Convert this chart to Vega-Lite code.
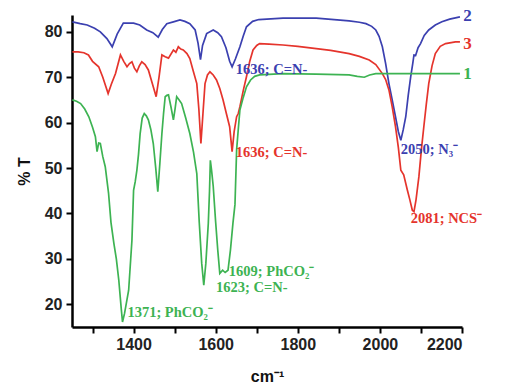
{
  "$schema": "https://vega.github.io/schema/vega-lite/v6.json",
  "width": 390,
  "height": 312,
  "autosize": {"type": "none"},
  "padding": {"left": 72, "top": 15, "right": 48, "bottom": 62},
  "background": "white",
  "config": {"view": {"stroke": null}},
  "datasets": {
    "spectra": [
      {"series":"2","wn":1251,"T":82.2},{"series":"2","wn":1270,"T":81.8},{"series":"2","wn":1287,"T":81.5},{"series":"2","wn":1305,"T":80.8},{"series":"2","wn":1319,"T":80},{"series":"2","wn":1335,"T":78.5},{"series":"2","wn":1348,"T":76.7},{"series":"2","wn":1360,"T":79.5},{"series":"2","wn":1375,"T":81.9},{"series":"2","wn":1400,"T":81.9},{"series":"2","wn":1415,"T":81.5},{"series":"2","wn":1432,"T":80.4},{"series":"2","wn":1447,"T":79.8},{"series":"2","wn":1460,"T":78.8},{"series":"2","wn":1470,"T":80.5},{"series":"2","wn":1481,"T":81.8},{"series":"2","wn":1497,"T":82.2},{"series":"2","wn":1513,"T":82.6},{"series":"2","wn":1525,"T":82.3},{"series":"2","wn":1537,"T":81.8},{"series":"2","wn":1550,"T":80.4},{"series":"2","wn":1557,"T":77.5},{"series":"2","wn":1563,"T":73.9},{"series":"2","wn":1568,"T":77},{"series":"2","wn":1578,"T":79.6},{"series":"2","wn":1594,"T":80.4},{"series":"2","wn":1605,"T":79.8},{"series":"2","wn":1614,"T":78.9},{"series":"2","wn":1625,"T":76.5},{"series":"2","wn":1634,"T":73.5},{"series":"2","wn":1640,"T":72.3},{"series":"2","wn":1648,"T":74},{"series":"2","wn":1659,"T":76.7},{"series":"2","wn":1667,"T":79},{"series":"2","wn":1675,"T":81.1},{"series":"2","wn":1690,"T":82.3},{"series":"2","wn":1705,"T":82.7},{"series":"2","wn":1764,"T":83},{"series":"2","wn":1845,"T":83},{"series":"2","wn":1925,"T":82.4},{"series":"2","wn":1950,"T":82.1},{"series":"2","wn":1966,"T":81.8},{"series":"2","wn":1980,"T":81.2},{"series":"2","wn":1990,"T":80.4},{"series":"2","wn":1998,"T":79},{"series":"2","wn":2006,"T":76.7},{"series":"2","wn":2014,"T":73},{"series":"2","wn":2022,"T":68.6},{"series":"2","wn":2030,"T":65},{"series":"2","wn":2038,"T":61.3},{"series":"2","wn":2045,"T":58},{"series":"2","wn":2051,"T":56.1},{"series":"2","wn":2057,"T":58.5},{"series":"2","wn":2063,"T":61.3},{"series":"2","wn":2069,"T":66},{"series":"2","wn":2075,"T":70.1},{"series":"2","wn":2080,"T":73},{"series":"2","wn":2083,"T":74.9},{"series":"2","wn":2087,"T":74.8},{"series":"2","wn":2093,"T":76.5},{"series":"2","wn":2099,"T":77.4},{"series":"2","wn":2108,"T":79.2},{"series":"2","wn":2119,"T":80.4},{"series":"2","wn":2135,"T":81.5},{"series":"2","wn":2151,"T":82.2},{"series":"2","wn":2170,"T":82.8},{"series":"2","wn":2195,"T":83.3},
      {"series":"3","wn":1251,"T":75.6},{"series":"3","wn":1265,"T":75.6},{"series":"3","wn":1279,"T":75.4},{"series":"3","wn":1290,"T":74.9},{"series":"3","wn":1300,"T":73.5},{"series":"3","wn":1315,"T":72.3},{"series":"3","wn":1325,"T":70},{"series":"3","wn":1338,"T":66.4},{"series":"3","wn":1346,"T":68.5},{"series":"3","wn":1356,"T":70.8},{"series":"3","wn":1368,"T":74.9},{"series":"3","wn":1376,"T":73.5},{"series":"3","wn":1384,"T":72.3},{"series":"3","wn":1390,"T":73},{"series":"3","wn":1396,"T":73.4},{"series":"3","wn":1402,"T":72},{"series":"3","wn":1408,"T":71.2},{"series":"3","wn":1414,"T":72.5},{"series":"3","wn":1420,"T":73.4},{"series":"3","wn":1428,"T":72.8},{"series":"3","wn":1436,"T":71.6},{"series":"3","wn":1446,"T":68.5},{"series":"3","wn":1455,"T":65.7},{"series":"3","wn":1462,"T":70},{"series":"3","wn":1469,"T":74.9},{"series":"3","wn":1477,"T":74.5},{"series":"3","wn":1485,"T":74.2},{"series":"3","wn":1497,"T":76},{"series":"3","wn":1503,"T":75.5},{"series":"3","wn":1509,"T":76.7},{"series":"3","wn":1515,"T":76.2},{"series":"3","wn":1521,"T":76},{"series":"3","wn":1530,"T":75.2},{"series":"3","wn":1537,"T":74.1},{"series":"3","wn":1545,"T":71.5},{"series":"3","wn":1554,"T":68.6},{"series":"3","wn":1559,"T":63},{"series":"3","wn":1564,"T":55.4},{"series":"3","wn":1569,"T":62},{"series":"3","wn":1574,"T":68.6},{"series":"3","wn":1580,"T":70.5},{"series":"3","wn":1586,"T":71.2},{"series":"3","wn":1594,"T":70.5},{"series":"3","wn":1602,"T":69.4},{"series":"3","wn":1610,"T":67.5},{"series":"3","wn":1618,"T":65},{"series":"3","wn":1626,"T":62},{"series":"3","wn":1634,"T":59.1},{"series":"3","wn":1640,"T":53.6},{"series":"3","wn":1645,"T":58},{"series":"3","wn":1651,"T":61.3},{"series":"3","wn":1655,"T":62},{"series":"3","wn":1659,"T":63.5},{"series":"3","wn":1667,"T":67},{"series":"3","wn":1675,"T":70.1},{"series":"3","wn":1683,"T":73.5},{"series":"3","wn":1691,"T":76},{"series":"3","wn":1700,"T":77},{"series":"3","wn":1707,"T":77.4},{"series":"3","wn":1730,"T":77.3},{"series":"3","wn":1764,"T":77.1},{"series":"3","wn":1800,"T":76.8},{"series":"3","wn":1845,"T":76.3},{"series":"3","wn":1880,"T":75.9},{"series":"3","wn":1925,"T":75.2},{"series":"3","wn":1950,"T":74.6},{"series":"3","wn":1974,"T":73.8},{"series":"3","wn":1990,"T":72.8},{"series":"3","wn":2006,"T":70.8},{"series":"3","wn":2014,"T":69.5},{"series":"3","wn":2022,"T":67.2},{"series":"3","wn":2030,"T":63.5},{"series":"3","wn":2038,"T":59.1},{"series":"3","wn":2045,"T":54.5},{"series":"3","wn":2051,"T":49.5},{"series":"3","wn":2058,"T":48.5},{"series":"3","wn":2067,"T":45.1},{"series":"3","wn":2073,"T":43},{"series":"3","wn":2079,"T":40.7},{"series":"3","wn":2083,"T":40.4},{"series":"3","wn":2088,"T":43},{"series":"3","wn":2095,"T":48.1},{"series":"3","wn":2101,"T":54},{"series":"3","wn":2107,"T":59.1},{"series":"3","wn":2113,"T":64},{"series":"3","wn":2119,"T":68.6},{"series":"3","wn":2127,"T":72.5},{"series":"3","wn":2135,"T":75.2},{"series":"3","wn":2147,"T":76.8},{"series":"3","wn":2160,"T":77.4},{"series":"3","wn":2184,"T":77.8},{"series":"3","wn":2195,"T":77.8},
      {"series":"1","wn":1251,"T":65},{"series":"1","wn":1261,"T":64.7},{"series":"1","wn":1271,"T":64.2},{"series":"1","wn":1281,"T":63},{"series":"1","wn":1291,"T":61.3},{"series":"1","wn":1300,"T":59},{"series":"1","wn":1307,"T":56.9},{"series":"1","wn":1311,"T":53.6},{"series":"1","wn":1315,"T":55.5},{"series":"1","wn":1319,"T":55.4},{"series":"1","wn":1325,"T":52.5},{"series":"1","wn":1331,"T":50.3},{"series":"1","wn":1339,"T":44.5},{"series":"1","wn":1345,"T":38},{"series":"1","wn":1352,"T":33.4},{"series":"1","wn":1358,"T":30},{"series":"1","wn":1364,"T":25.3},{"series":"1","wn":1370,"T":19},{"series":"1","wn":1373,"T":16.1},{"series":"1","wn":1378,"T":18},{"series":"1","wn":1388,"T":23.1},{"series":"1","wn":1396,"T":34.1},{"series":"1","wn":1400,"T":45.1},{"series":"1","wn":1404,"T":47},{"series":"1","wn":1408,"T":49.5},{"series":"1","wn":1412,"T":53},{"series":"1","wn":1416,"T":57.6},{"series":"1","wn":1421,"T":61},{"series":"1","wn":1426,"T":62},{"series":"1","wn":1431,"T":61.5},{"series":"1","wn":1436,"T":60.6},{"series":"1","wn":1442,"T":58.5},{"series":"1","wn":1448,"T":55.4},{"series":"1","wn":1454,"T":50},{"series":"1","wn":1459,"T":44.8},{"series":"1","wn":1464,"T":51},{"series":"1","wn":1469,"T":57.6},{"series":"1","wn":1473,"T":62},{"series":"1","wn":1477,"T":65.7},{"series":"1","wn":1481,"T":66},{"series":"1","wn":1485,"T":66.1},{"series":"1","wn":1491,"T":63.5},{"series":"1","wn":1497,"T":60.6},{"series":"1","wn":1501,"T":63},{"series":"1","wn":1505,"T":65.7},{"series":"1","wn":1511,"T":65},{"series":"1","wn":1517,"T":64.2},{"series":"1","wn":1527,"T":61},{"series":"1","wn":1537,"T":57.6},{"series":"1","wn":1546,"T":53.5},{"series":"1","wn":1554,"T":48.8},{"series":"1","wn":1560,"T":38},{"series":"1","wn":1566,"T":29},{"series":"1","wn":1571,"T":24.2},{"series":"1","wn":1576,"T":29},{"series":"1","wn":1582,"T":37.8},{"series":"1","wn":1585,"T":45},{"series":"1","wn":1587,"T":51.7},{"series":"1","wn":1590,"T":49.5},{"series":"1","wn":1594,"T":46},{"series":"1","wn":1600,"T":38},{"series":"1","wn":1605,"T":32},{"series":"1","wn":1610,"T":26.8},{"series":"1","wn":1617,"T":27.5},{"series":"1","wn":1623,"T":27},{"series":"1","wn":1630,"T":27.5},{"series":"1","wn":1636,"T":32},{"series":"1","wn":1642,"T":37.8},{"series":"1","wn":1647,"T":42},{"series":"1","wn":1651,"T":54},{"series":"1","wn":1655,"T":58.5},{"series":"1","wn":1659,"T":62.8},{"series":"1","wn":1667,"T":65.5},{"series":"1","wn":1675,"T":67.9},{"series":"1","wn":1685,"T":69.4},{"series":"1","wn":1695,"T":70.2},{"series":"1","wn":1707,"T":70.5},{"series":"1","wn":1764,"T":70.8},{"series":"1","wn":1845,"T":70.7},{"series":"1","wn":1925,"T":70.5},{"series":"1","wn":1945,"T":70.2},{"series":"1","wn":1962,"T":70},{"series":"1","wn":1975,"T":70.5},{"series":"1","wn":1990,"T":70.8},{"series":"1","wn":2050,"T":70.8},{"series":"1","wn":2195,"T":70.8}
    ],
    "labels": [
      {"series":"2","wn":1649,"T":71.6,"text":"1636; C=N-","kind":"note"},
      {"series":"3","wn":1649,"T":53.3,"text":"1636; C=N-","kind":"note"},
      {"series":"2","wn":2051,"T":53.9,"text":"2050; N₃⁻","kind":"note"},
      {"series":"3","wn":2075,"T":38.7,"text":"2081; NCS⁻","kind":"note"},
      {"series":"1","wn":1632,"T":27.1,"text":"1609; PhCO₂⁻","kind":"note"},
      {"series":"1","wn":1601,"T":23.5,"text":"1623; C=N-","kind":"note"},
      {"series":"1","wn":1385,"T":18,"text":"1371; PhCO₂⁻","kind":"note"},
      {"series":"2","wn":2203,"T":83.5,"text":"2","kind":"id"},
      {"series":"3","wn":2203,"T":77.4,"text":"3","kind":"id"},
      {"series":"1","wn":2203,"T":70.7,"text":"1","kind":"id"}
    ]
  },
  "layer": [
    {
      "data": {"name": "spectra"},
      "mark": {"type": "line", "strokeWidth": 1.7, "clip": true},
      "encoding": {
        "x": {
          "field": "wn", "type": "quantitative",
          "scale": {"domain": [1250, 2200], "nice": false, "zero": false},
          "axis": {
            "title": "cm⁻¹",
            "values": [1300,1400,1500,1600,1700,1800,1900,2000,2100,2200],
            "format": "d",
            "labelExpr": "datum.value % 200 == 0 ? datum.label : ''",
            "grid": false,
            "domainColor": "black", "domainWidth": 2.5,
            "tickColor": "black", "tickWidth": 2, "tickSize": 6,
            "labelFont": "Liberation Sans", "labelFontWeight": "bold", "labelFontSize": 16, "labelColor": "#222",
            "labelPadding": 3,
            "titleFont": "Liberation Sans", "titleFontWeight": "bold", "titleFontSize": 16, "titleColor": "#111",
            "titlePadding": 16
          }
        },
        "y": {
          "field": "T", "type": "quantitative",
          "scale": {"domain": [15, 83.7], "nice": false, "zero": false},
          "axis": {
            "title": "% T",
            "values": [20,25,30,35,40,45,50,55,60,65,70,75,80],
            "labelExpr": "datum.value % 10 == 0 ? datum.label : ''",
            "grid": false,
            "domainColor": "black", "domainWidth": 2.5,
            "tickColor": "black", "tickWidth": 2, "tickSize": 6,
            "labelFont": "Liberation Sans", "labelFontWeight": "bold", "labelFontSize": 16, "labelColor": "#222",
            "labelPadding": 4,
            "titleFont": "Liberation Sans", "titleFontWeight": "bold", "titleFontSize": 16, "titleColor": "#111",
            "titlePadding": 12
          }
        },
        "color": {
          "field": "series", "type": "nominal",
          "scale": {"domain": ["1","2","3"], "range": ["#3db352", "#3b40b0", "#e5342c"]},
          "legend": null
        },
        "detail": {"field": "series"}
      }
    },
    {
      "data": {"name": "labels"},
      "transform": [{"filter": "datum.kind == 'note'"}],
      "mark": {"type": "text", "align": "left", "baseline": "middle", "font": "Liberation Serif", "fontWeight": "bold", "fontSize": 14.5, "clip": false},
      "encoding": {
        "x": {"field": "wn", "type": "quantitative"},
        "y": {"field": "T", "type": "quantitative"},
        "text": {"field": "text"},
        "color": {"field": "series", "type": "nominal", "legend": null}
      }
    },
    {
      "data": {"name": "labels"},
      "transform": [{"filter": "datum.kind == 'id'"}],
      "mark": {"type": "text", "align": "left", "baseline": "middle", "font": "Liberation Serif", "fontWeight": "bold", "fontSize": 17, "clip": false},
      "encoding": {
        "x": {"field": "wn", "type": "quantitative"},
        "y": {"field": "T", "type": "quantitative"},
        "text": {"field": "text"},
        "color": {"field": "series", "type": "nominal", "legend": null}
      }
    }
  ]
}
